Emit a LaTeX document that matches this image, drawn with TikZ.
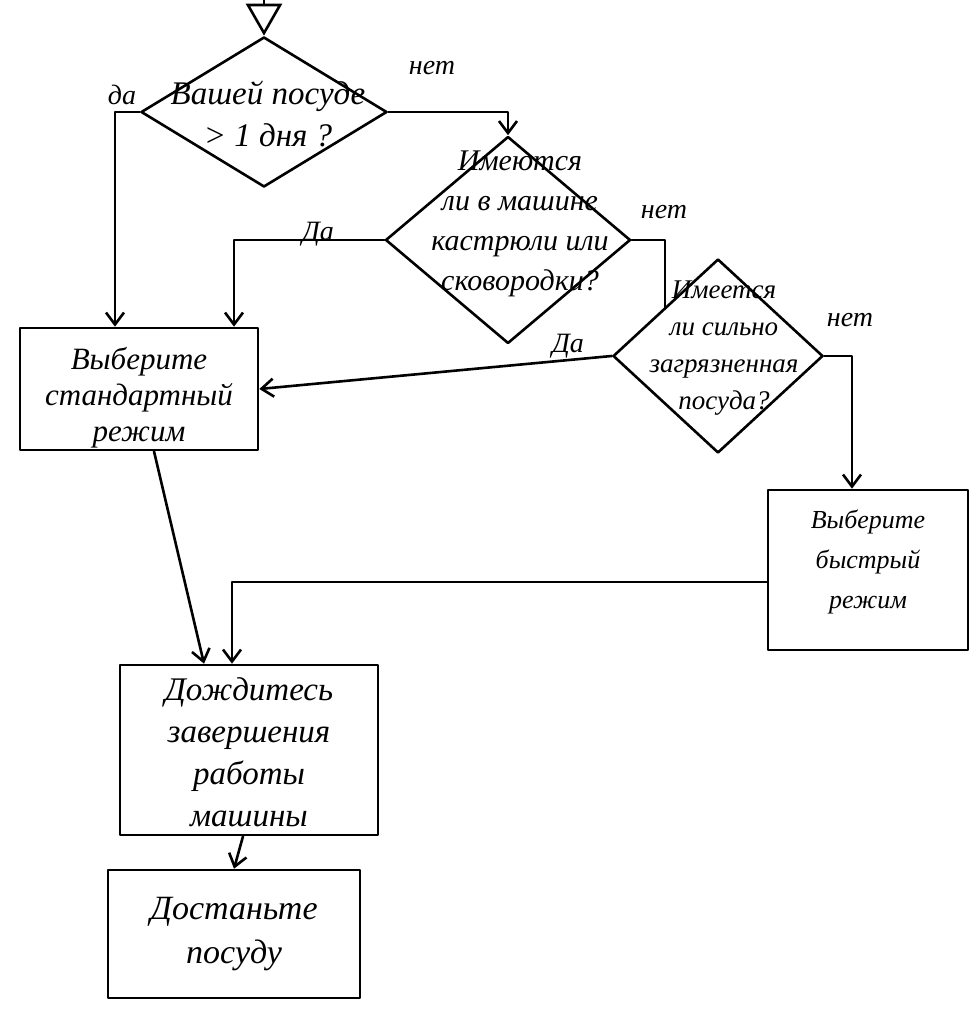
\documentclass[tikz,border=0pt]{standalone}
\usepackage{fontspec}
\setmainfont{Liberation Serif}
\usetikzlibrary{shapes.geometric,arrows.meta,calc}
\begin{document}
\begin{tikzpicture}[x=1pt,y=-1pt,line width=2.6pt,line join=round,line cap=round,
  dia/.style={draw,line width=2.6pt,diamond,inner sep=0pt},
  box/.style={draw,line width=2.6pt,rectangle,inner sep=0pt},
  txt/.style={align=center,inner sep=0pt},
  lbl/.style={font=\itshape\fontsize{28}{30}\selectfont,inner sep=0pt},
  arr/.style={-{Straight Barb[length=12pt,width=18pt]}},
  startarr/.style={-{Triangle[open,length=32pt,width=36pt]}}]
\useasboundingbox (0,0) rectangle (976,1011);
% decision diamonds
\node[dia,minimum width=246pt,minimum height=150pt] (d1) at (264,112) {};
\node[dia,minimum width=245pt,minimum height=207pt] (d2) at (508,240) {};
\node[dia,minimum width=210pt,minimum height=194pt] (d3) at (718,356) {};
% boxes
\node[box,minimum width=238pt,minimum height=122pt] (b1) at (139,389) {};
\node[box,minimum width=200pt,minimum height=160pt] (b2) at (868,570) {};
\node[box,minimum width=258pt,minimum height=170pt] (b3) at (249,750) {};
\node[box,minimum width=252pt,minimum height=128pt] (b4) at (234,934) {};
% texts
\node[txt,font=\itshape\fontsize{33}{42}\selectfont] (t1) at (268,114) {Вашей посуде\\> 1 дня ?};
\node[txt,font=\itshape\fontsize{30}{40}\selectfont] (t2) at (520,224) {Имеются\\ли в машине\\кастрюли или\\сковородки?};
\node[txt,font=\itshape\fontsize{27}{37}\selectfont] (t3) at (724,348) {Имеется\\ли сильно\\загрязненная\\посуда?};
\node[txt,font=\itshape\fontsize{31}{36}\selectfont] (tb1) at (139,398) {Выберите\\стандартный\\режим};
\node[txt,font=\itshape\fontsize{26}{40}\selectfont] (tb2) at (868,562) {Выберите\\быстрый\\режим};
\node[txt,font=\itshape\fontsize{33}{42}\selectfont] (tb3) at (249,752) {Дождитесь\\завершения\\работы\\машины};
\node[txt,font=\itshape\fontsize{34}{44}\selectfont] (tb4) at (234,934) {Достаньте\\посуду};
% answer labels
\node[lbl] (l1) at (122,95) {да};
\node[lbl] (l2) at (432,68) {нет};
\node[lbl] (l3) at (318,234) {Да};
\node[lbl] (l4) at (664,212) {нет};
\node[lbl] (l5) at (568,346) {Да};
\node[lbl] (l6) at (850,320) {нет};
% connectors
\coordinate (start) at (d1.north |- 0,0);
\draw[startarr] (start) -- (d1.north);
\draw[arr] (d1.west) -| ([xshift=-24pt]b1.north);
\draw[arr] (d1.east) -| (d2.north);
\draw[arr] (d2.west) -| ([xshift=95pt]b1.north);
\coordinate (d3in) at ($(d3.west)!0.5!(d3.north)$);
\draw (d2.east) -| (d3in);
\draw[arr] (d3.west) -- (b1.east);
\draw[arr] (d3.east) -| ([xshift=-16pt]b2.north);
\draw[arr] ([yshift=-12pt]b2.west) -| ([xshift=-17pt]b3.north);
\draw[arr] ([xshift=15pt]b1.south) -- ([xshift=-45pt]b3.north);
\draw[arr] ([xshift=-6pt]b3.south) -- (b4.north);
\end{tikzpicture}
\end{document}
